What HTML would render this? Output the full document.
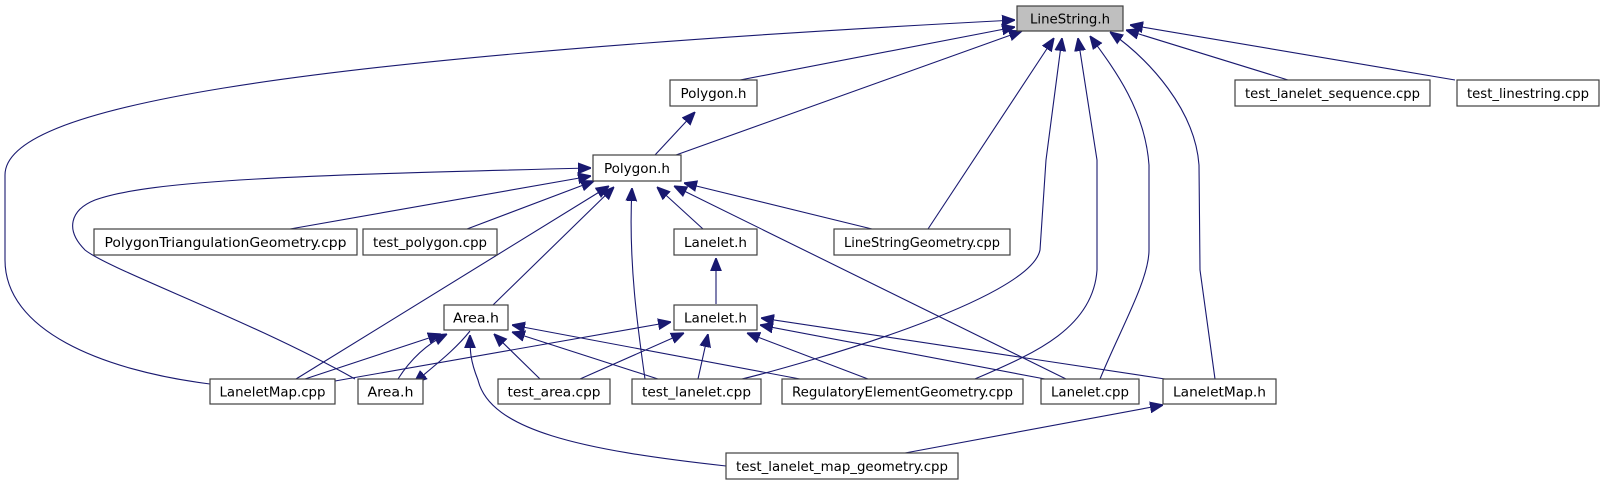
<!DOCTYPE html>
<html><head><meta charset="utf-8"><style>
html,body{margin:0;padding:0;background:#fff;}
svg{display:block;}
text{font-family:"DejaVu Sans Condensed","Liberation Sans Narrow","DejaVu Sans",sans-serif;font-size:13.5px;fill:#000;}
.n{fill:#fff;stroke:#404040;stroke-width:1.2;}
.e{fill:none;stroke:#191970;stroke-width:1.1;}
</style></head><body>
<svg width="1605" height="485" viewBox="0 0 1605 485" xmlns="http://www.w3.org/2000/svg">
<defs><marker id="a" viewBox="0 0 10 10" refX="10" refY="5" markerWidth="13" markerHeight="13" markerUnits="userSpaceOnUse" orient="auto"><path d="M0,1 L10,5 L0,9 z" fill="#191970" stroke="#191970"/></marker></defs>
<g class="e" marker-end="url(#a)">
<path d="M210,384 C100,370 5,330 5,260 L5,175 C5,110 250,60 1015,20"/>
<path d="M740,80 L1015,27"/>
<path d="M676,155 L1022,31"/>
<path d="M655,155 L695,112"/>
<path d="M928,229 L1054,38"/>
<path d="M738,380 C800,365 1030,300 1040,250 L1046,160 L1062,38"/>
<path d="M975,379 C1030,355 1093,330 1097,270 L1097,160 L1078,38"/>
<path d="M1100,379 C1120,330 1149,280 1149,250 L1149,165 C1145,110 1115,70 1090,36"/>
<path d="M1215,379 L1200,270 L1199,165 C1195,110 1150,60 1110,32"/>
<path d="M1288,80 L1126,30"/>
<path d="M1455,80 L1130,25"/>
<path d="M355,379 C250,320 110,270 85,250 C65,230 70,210 95,200 C150,180 300,175 591,168"/>
<path d="M290,229 L591,176"/>
<path d="M467,229 L594,181"/>
<path d="M296,379 L609,186"/>
<path d="M493,305 L614,187"/>
<path d="M645,379 C638,330 628,260 632,188"/>
<path d="M703,229 L657,187"/>
<path d="M1066,379 L674,186"/>
<path d="M872,229 L684,183"/>
<path d="M716,304 L716,258"/>
<path d="M305,379 L441,334"/>
<path d="M398,379 C410,360 425,345 447,334"/>
<path d="M470,331 C455,350 435,365 414,383"/>
<path d="M540,379 L494,334"/>
<path d="M658,379 L512,332"/>
<path d="M800,379 L512,325"/>
<path d="M726,466 C580,450 490,430 478,380 C470,360 470,350 470,335"/>
<path d="M335,381 L671,322"/>
<path d="M580,379 L684,333"/>
<path d="M698,379 L708,334"/>
<path d="M868,379 L747,333"/>
<path d="M1045,379 L760,325"/>
<path d="M1165,379 L761,318"/>
<path d="M905,453 L1163,405"/>
</g>
<rect x="1017" y="6" width="106" height="25" fill="#bfbfbf" stroke="#404040" stroke-width="1.2"/>
<text x="1070" y="23.5" text-anchor="middle" textLength="80" lengthAdjust="spacingAndGlyphs">LineString.h</text>
<g>
<rect class="n" x="670" y="80" width="87" height="26"/><text x="713.5" y="98" text-anchor="middle" textLength="66" lengthAdjust="spacingAndGlyphs">Polygon.h</text>
<rect class="n" x="593" y="155" width="88" height="26"/><text x="637" y="173" text-anchor="middle" textLength="66" lengthAdjust="spacingAndGlyphs">Polygon.h</text>
<rect class="n" x="1235" y="80" width="195" height="26"/><text x="1332.5" y="98" text-anchor="middle" textLength="175" lengthAdjust="spacingAndGlyphs">test_lanelet_sequence.cpp</text>
<rect class="n" x="1457" y="80" width="142" height="26"/><text x="1528" y="98" text-anchor="middle" textLength="122" lengthAdjust="spacingAndGlyphs">test_linestring.cpp</text>
<rect class="n" x="94" y="229" width="263" height="26"/><text x="225.5" y="247" text-anchor="middle" textLength="242" lengthAdjust="spacingAndGlyphs">PolygonTriangulationGeometry.cpp</text>
<rect class="n" x="363" y="229" width="134" height="26"/><text x="430" y="247" text-anchor="middle" textLength="114" lengthAdjust="spacingAndGlyphs">test_polygon.cpp</text>
<rect class="n" x="674" y="229" width="83" height="26"/><text x="715.5" y="247" text-anchor="middle" textLength="63" lengthAdjust="spacingAndGlyphs">Lanelet.h</text>
<rect class="n" x="834" y="229" width="176" height="26"/><text x="922" y="247" text-anchor="middle" textLength="156" lengthAdjust="spacingAndGlyphs">LineStringGeometry.cpp</text>
<rect class="n" x="444" y="305" width="64" height="25"/><text x="476" y="322.5" text-anchor="middle" textLength="46" lengthAdjust="spacingAndGlyphs">Area.h</text>
<rect class="n" x="674" y="305" width="83" height="25"/><text x="715.5" y="322.5" text-anchor="middle" textLength="63" lengthAdjust="spacingAndGlyphs">Lanelet.h</text>
<rect class="n" x="210" y="379" width="125" height="25"/><text x="272.5" y="396.5" text-anchor="middle" textLength="106" lengthAdjust="spacingAndGlyphs">LaneletMap.cpp</text>
<rect class="n" x="358" y="379" width="65" height="25"/><text x="390.5" y="396.5" text-anchor="middle" textLength="46" lengthAdjust="spacingAndGlyphs">Area.h</text>
<rect class="n" x="498" y="379" width="112" height="25"/><text x="554" y="396.5" text-anchor="middle" textLength="93" lengthAdjust="spacingAndGlyphs">test_area.cpp</text>
<rect class="n" x="632" y="379" width="129" height="25"/><text x="696.5" y="396.5" text-anchor="middle" textLength="109" lengthAdjust="spacingAndGlyphs">test_lanelet.cpp</text>
<rect class="n" x="782" y="379" width="241" height="25"/><text x="902.5" y="396.5" text-anchor="middle" textLength="221" lengthAdjust="spacingAndGlyphs">RegulatoryElementGeometry.cpp</text>
<rect class="n" x="1041" y="379" width="98" height="25"/><text x="1090" y="396.5" text-anchor="middle" textLength="78" lengthAdjust="spacingAndGlyphs">Lanelet.cpp</text>
<rect class="n" x="1163" y="379" width="113" height="25"/><text x="1219.5" y="396.5" text-anchor="middle" textLength="93" lengthAdjust="spacingAndGlyphs">LaneletMap.h</text>
<rect class="n" x="726" y="453" width="232" height="26"/><text x="842" y="471" text-anchor="middle" textLength="212" lengthAdjust="spacingAndGlyphs">test_lanelet_map_geometry.cpp</text>
</g>
</svg>
</body></html>
